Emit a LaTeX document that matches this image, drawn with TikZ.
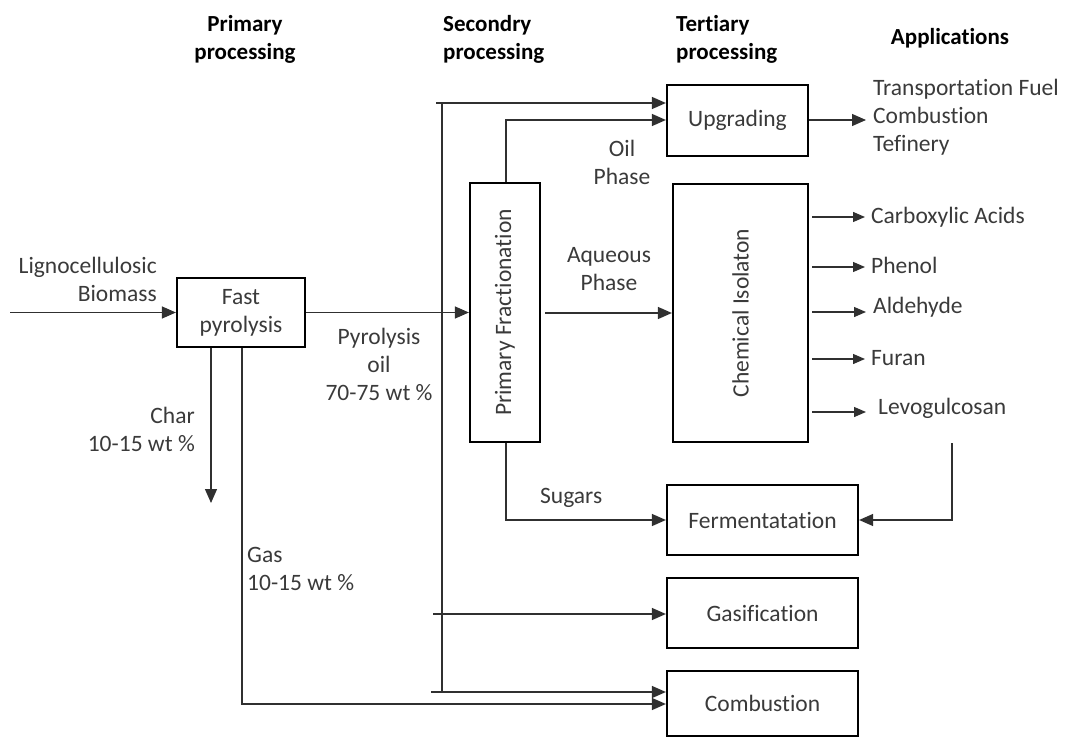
\documentclass[tikz,border=0pt]{standalone}
\usepackage{fontspec}
\setmainfont{Carlito}[Ligatures=NoCommon]
\usetikzlibrary{arrows.meta,calc}
\definecolor{txt}{HTML}{3A3A3A}
\definecolor{ln}{HTML}{303030}
\tikzset{
  box/.style={draw=black, line width=2.2pt, inner sep=0pt, text=txt},
  lbl/.style={inner sep=0pt, text=txt, align=center},
  hdr/.style={inner sep=0pt, text=black, font=\bfseries\fontsize{23}{28}\selectfont},
  conn/.style={draw=ln, line width=1.3pt},
  arr/.style={conn, -{Triangle[length=14pt,width=12pt]}},
  sarr/.style={conn, -{Triangle[length=12pt,width=10pt]}},
}
\begin{document}
\begin{tikzpicture}[x=1pt,y=-1pt, font=\fontsize{23.5}{28}\selectfont]
\useasboundingbox (0,0) rectangle (1071,738);
% headers
\node[hdr, align=center] (h1) at (245,39) {Primary\\processing};
\node[hdr, align=left, anchor=west] (h2) at (443,39) {Secondry\\processing};
\node[hdr, align=left, anchor=west] (h3) at (676,39) {Tertiary\\processing};
\node[hdr] (h4) at (950,38) {Applications};
% boxes
\node[box, minimum width=128pt, minimum height=69pt, align=center] (fp) at (241,312.5) {Fast\\pyrolysis};
\node[box, minimum width=70pt, minimum height=259pt] (pf) at (505,312.5) {\rotatebox{90}{Primary Fractionation}};
\node[box, minimum width=141pt, minimum height=71pt] (up) at (737.5,120.5) {Upgrading};
\node[box, minimum width=135pt, minimum height=258pt] (ci) at (740.5,313) {\rotatebox{90}{Chemical Isolaton}};
\node[box, minimum width=191pt, minimum height=70pt] (fe) at (762.5,520) {Fermentatation};
\node[box, minimum width=191pt, minimum height=70pt] (ga) at (762.5,613) {Gasification};
\node[box, minimum width=191pt, minimum height=65pt] (co) at (762.5,703.5) {Combustion};
% labels
\node[lbl, align=right, anchor=east] (lig) at (157,279) {Lignocellulosic\\Biomass};
\node[lbl, align=right, anchor=east] (char) at (195,429) {Char\\10-15 wt \%};
\node[lbl, align=left, anchor=west] (gas) at (247,569) {Gas\\10-15 wt \%};
\node[lbl] (pyo) at (379,364) {Pyrolysis\\oil\\70-75 wt \%};
\node[lbl] (oilp) at (622,162) {Oil\\Phase};
\node[lbl] (aqp) at (609,269) {Aqueous\\Phase};
\node[lbl, anchor=west] (sug) at (540,498) {Sugars};
\node[lbl, align=left, anchor=west] (apps) at (873,117) {Transportation Fuel\\Combustion\\Tefinery};
\node[lbl, anchor=west] (p1) at (871,217) {Carboxylic Acids};
\node[lbl, anchor=west] (p2) at (871,265) {Phenol};
\node[lbl, anchor=west] (p3) at (873,307) {Aldehyde};
\node[lbl, anchor=west] (p4) at (871,358) {Furan};
\node[lbl, anchor=west] (p5) at (878,408) {Levogulcosan};
% coordinates
\coordinate (in) at (10,312.5);
\coordinate (charend) at (211,503);
\coordinate (gasturn) at (242,704);
\coordinate (bt) at (442,103);
\coordinate (bb) at (442,692);
\coordinate (b1) at (436,103);
\coordinate (b2) at (433,614);
\coordinate (b3) at (431,692);
\coordinate (op) at (506,120);
\coordinate (aq) at (545,313);
\coordinate (sg) at (506,520);
\coordinate (lv1) at (952,443);
\coordinate (lv2) at (952,520);
\coordinate (uo) at (866,120);
\coordinate (s1) at (812,217); \coordinate (t1) at (865,217);
\coordinate (s2) at (812,267); \coordinate (t2) at (865,267);
\coordinate (s3) at (812,312); \coordinate (t3) at (866,312);
\coordinate (s4) at (812,359); \coordinate (t4) at (865,359);
\coordinate (s5) at (812,412); \coordinate (t5) at (866,412);
% connectors
\draw[arr] (in) -- (fp.west);
\draw[arr] (fp.south -| charend) -- (charend);
\draw[arr] (fp.south -| gasturn) -- (gasturn) -- (co.west |- gasturn);
\draw[arr] (fp.east) -- (pf.west);
\draw[conn] (bt) -- (bb);
\draw[arr] (b1) -- (up.west |- b1);
\draw[arr] (b2) -- (ga.west |- b2);
\draw[arr] (b3) -- (co.west |- b3);
\draw[arr] (pf.north -| op) -- (op) -- (up.west |- op);
\draw[arr] (aq) -- (ci.west |- aq);
\draw[arr] (pf.south -| sg) -- (sg) -- (fe.west);
\draw[arr] (lv1) -- (lv2) -- (fe.east);
\draw[arr] (up.east |- uo) -- (uo);
\draw[sarr] (s1) -- (t1);
\draw[sarr] (s2) -- (t2);
\draw[sarr] (s3) -- (t3);
\draw[sarr] (s4) -- (t4);
\draw[sarr] (s5) -- (t5);
\end{tikzpicture}
\end{document}
